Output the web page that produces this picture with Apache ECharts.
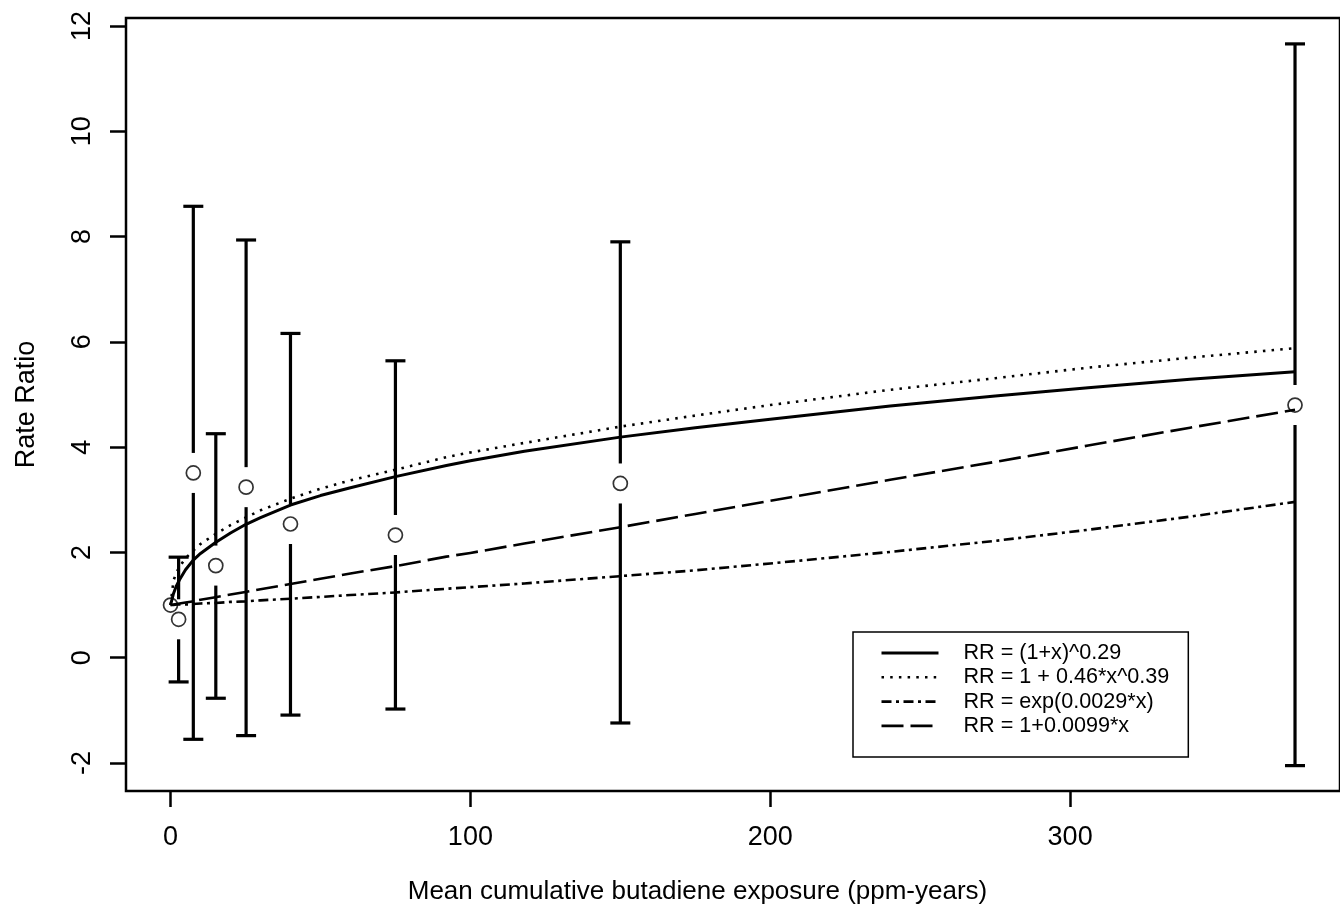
<!DOCTYPE html>
<html>
<head>
<meta charset="utf-8">
<script src="https://cdn.jsdelivr.net/npm/echarts@6/dist/echarts.min.js"></script>
<style>
  html, body { margin: 0; padding: 0; background: #fff; }
  #main { width: 1340px; height: 911px; }
</style>
</head>
<body>
<div id="main"></div>
<script>
// observed rate ratios with confidence limits, per exposure group
const exposure = [0, 2.7, 7.6, 15.1, 25.2, 40, 75, 150, 375]
const rateRatio = [1.0, 0.73, 3.51, 1.75, 3.24, 2.54, 2.33, 3.31, 4.80]
const lowerCI = [null, -0.46, -1.55, -0.77, -1.48, -1.09, -0.975, -1.24, -2.05]
const upperCI = [null, 1.91, 8.575, 4.255, 7.935, 6.16, 5.64, 7.90, 11.66]

// fitted curves at these exposures
const curveX = [0, 1, 2, 3, 5, 7.5, 10, 15, 20, 25, 30, 40, 50, 60, 75, 92, 100, 118, 150, 175, 200, 240, 275, 306, 340, 375]
const powerFit = [1.0, 1.22, 1.37, 1.48, 1.67, 1.85, 1.98, 2.19, 2.37, 2.53, 2.66, 2.9, 3.08, 3.23, 3.44, 3.65, 3.74, 3.92, 4.19, 4.37, 4.53, 4.78, 4.97, 5.13, 5.29, 5.43]
const powerPlusFit = [1.0, 1.47, 1.62, 1.73, 1.89, 2.03, 2.16, 2.35, 2.52, 2.66, 2.8, 3.02, 3.21, 3.37, 3.57, 3.81, 3.9, 4.08, 4.39, 4.6, 4.8, 5.09, 5.31, 5.51, 5.7, 5.88]
const expFit = [1.0, 1.0, 1.01, 1.01, 1.01, 1.02, 1.03, 1.04, 1.06, 1.07, 1.09, 1.12, 1.155, 1.19, 1.24, 1.31, 1.34, 1.41, 1.55, 1.66, 1.79, 2.01, 2.22, 2.43, 2.68, 2.96]
const linearFit = [1.0, 1.01, 1.02, 1.03, 1.05, 1.07, 1.1, 1.15, 1.2, 1.25, 1.3, 1.4, 1.5, 1.6, 1.74, 1.92, 1.99, 2.17, 2.48, 2.73, 2.98, 3.38, 3.72, 4.03, 4.37, 4.71]

const curveNames = ['RR = (1+x)^0.29', 'RR = 1 + 0.46*x^0.39', 'RR = exp(0.0029*x)', 'RR = 1+0.0099*x']
const xTicks = [0, 100, 200, 300]
const yTicks = [-2, 0, 2, 4, 6, 8, 10, 12]

const font = 'Liberation Sans, Arial, Helvetica, sans-serif'

// zip x with y
function pairs(xs, ys) {
  return xs.map((x, i) => [x, ys[i]])
}

// rows for the error bars: [x, lo, hi, rr]
let barRows = []
exposure.forEach((x, i) => {
  if (lowerCI[i] != null) barRows.push([x, lowerCI[i], upperCI[i], rateRatio[i]])
})

// vertical CI bar with caps, broken round the point
function renderBar(params, api) {
  const top = api.coord([api.value(0), api.value(2)])
  const bot = api.coord([api.value(0), api.value(1)])
  const mid = api.coord([api.value(0), api.value(3)])
  const gap = 20, cap = 10
  const style = { stroke: '#000', lineWidth: 3.2 }
  return {
    type: 'group',
    children: [
      { type: 'line', shape: { x1: top[0], y1: top[1], x2: mid[0], y2: mid[1] - gap }, style },
      { type: 'line', shape: { x1: mid[0], y1: mid[1] + gap, x2: bot[0], y2: bot[1] }, style },
      { type: 'line', shape: { x1: top[0] - cap, y1: top[1], x2: top[0] + cap, y2: top[1] }, style },
      { type: 'line', shape: { x1: bot[0] - cap, y1: bot[1], x2: bot[0] + cap, y2: bot[1] }, style }
    ]
  }
}

function curve(name, data, width, type) {
  return {
    name: name,
    type: 'line',
    data: data,
    symbol: 'none',
    smooth: false,
    lineStyle: { color: '#000', width: width, type: type, cap: 'butt', join: 'round' },
    itemStyle: { color: '#000' },
    z: 3
  }
}

var myChart = echarts.init(document.getElementById('main'))

var option = {
  animation: false,
  backgroundColor: '#fff',
  textStyle: { fontFamily: font, color: '#000' },
  grid: {
    left: 126, top: 18, width: 1228, height: 773,
    show: true, borderColor: '#000', borderWidth: 2.5, backgroundColor: 'transparent'
  },
  legend: {
    orient: 'vertical',
    left: 853, top: 632,
    data: curveNames,
    selectedMode: false,
    borderColor: '#000', borderWidth: 1.5, borderRadius: 0,
    padding: [10, 19, 20, 27],
    itemWidth: 57, itemHeight: 14, itemGap: 2.3,
    itemStyle: { opacity: 0 },
    lineStyle: { width: 'inherit' },
    textStyle: { fontFamily: font, fontSize: 21.6, color: '#000', padding: [0, 0, 0, 20] }
  },
  xAxis: {
    type: 'value',
    min: -14.85, max: 390,
    name: 'Mean cumulative butadiene exposure (ppm-years)',
    nameLocation: 'middle',
    nameGap: 88,
    nameTextStyle: { fontFamily: font, fontSize: 26, color: '#000', padding: [0, 71, 0, 0] },
    axisLine: { show: false, onZero: false },
    axisTick: { show: true, customValues: xTicks, length: 16, lineStyle: { color: '#000', width: 2.5 } },
    axisLabel: { customValues: xTicks, fontSize: 27, margin: 33, color: '#000', fontFamily: font },
    splitLine: { show: false }
  },
  yAxis: {
    type: 'value',
    min: -2.532, max: 12.152,
    name: 'Rate Ratio',
    nameLocation: 'middle',
    nameGap: 86,
    nameTextStyle: { fontFamily: font, fontSize: 27, color: '#000' },
    axisLine: { show: false, onZero: false },
    axisTick: { show: true, customValues: yTicks, length: 16, lineStyle: { color: '#000', width: 2.5 } },
    axisLabel: { customValues: yTicks, rotate: 90, fontSize: 27, margin: 30, color: '#000', fontFamily: font },
    splitLine: { show: false }
  },
  series: [
    {
      name: 'ci',
      type: 'custom',
      renderItem: renderBar,
      data: barRows,
      encode: { x: 0, y: [1, 2] },
      z: 2
    },
    {
      name: 'observed',
      type: 'scatter',
      data: pairs(exposure, rateRatio),
      symbol: 'circle',
      symbolSize: 14,
      itemStyle: { color: 'rgba(0,0,0,0)', borderColor: '#000', borderWidth: 1.7 },
      z: 4
    },
    curve(curveNames[0], pairs(curveX, powerFit), 3, 'solid'),
    curve(curveNames[1], pairs(curveX, powerPlusFit), 2.6, [2.5, 6.2]),
    curve(curveNames[2], pairs(curveX, expFit), 2.6, [10, 4.5, 3, 4.5]),
    curve(curveNames[3], pairs(curveX, linearFit), 2.6, [22, 7])
  ]
}

option && myChart.setOption(option)
</script>
</body>
</html>
